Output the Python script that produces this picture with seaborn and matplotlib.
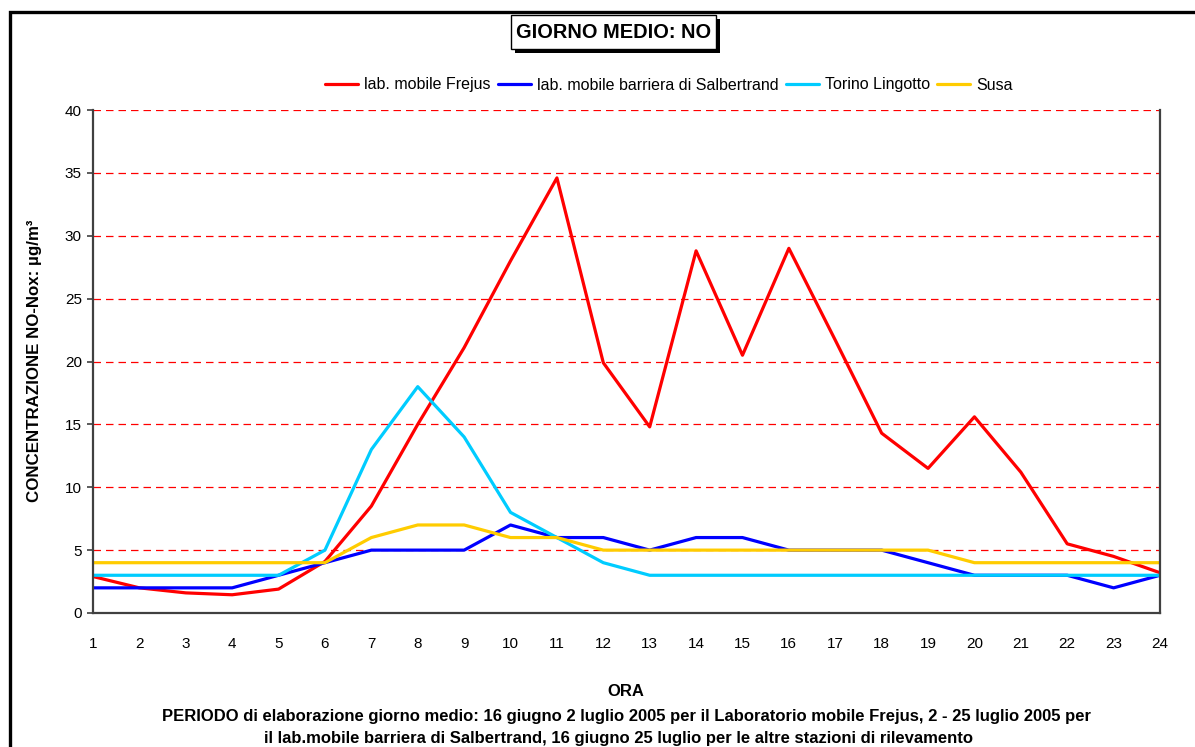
import matplotlib
matplotlib.use("Agg")
import matplotlib.pyplot as plt
from matplotlib.patches import Rectangle
from matplotlib.lines import Line2D
import seaborn as sns
import pandas as pd

# ---- data ----
hours = list(range(1, 25))
frejus = [2.9, 2.0, 1.6, 1.45, 1.9, 4.1, 8.5, 15.0, 21.1, 28.0, 34.6, 19.9,
          14.8, 28.8, 20.5, 29.0, 21.7, 14.3, 11.5, 15.6, 11.2, 5.5, 4.5, 3.2]
salbertrand = [2, 2, 2, 2, 3, 4, 5, 5, 5, 7, 6, 6, 5, 6, 6, 5, 5, 5, 4, 3, 3, 3, 2, 3]
torino = [3, 3, 3, 3, 3, 5, 13, 18, 14, 8, 6, 4, 3, 3, 3, 3, 3, 3, 3, 3, 3, 3, 3, 3]
susa = [4, 4, 4, 4, 4, 4, 6, 7, 7, 6, 6, 5, 5, 5, 5, 5, 5, 5, 5, 4, 4, 4, 4, 4]
series_names = ["lab. mobile Frejus", "lab. mobile barriera di Salbertrand",
                "Torino Lingotto", "Susa"]
colors = ["#FF0000", "#0000FF", "#00CCFF", "#FFCC00"]
y_ticks = [0, 5, 10, 15, 20, 25, 30, 35, 40]

title = "GIORNO MEDIO: NO"
ylabel = "CONCENTRAZIONE NO-Nox: µg/m³"
xlabel = "ORA"
note1 = "PERIODO di elaborazione giorno medio: 16 giugno 2 luglio 2005 per il Laboratorio mobile Frejus, 2 - 25 luglio 2005 per"
note2 = "il lab.mobile barriera di Salbertrand, 16 giugno 25 luglio per le altre stazioni di rilevamento"

rows = []
for name, vals in zip(series_names, [frejus, salbertrand, torino, susa]):
    for h, v in zip(hours, vals):
        rows.append({"ora": h, "valore": v, "serie": name})
df = pd.DataFrame(rows)

sns.set_theme(style="white")
plt.rcParams["font.family"] = ["Liberation Sans", "DejaVu Sans"]
plt.rcParams["text.color"] = "black"
plt.rcParams["axes.labelcolor"] = "black"
plt.rcParams["xtick.color"] = "black"
plt.rcParams["ytick.color"] = "black"

W, H = 1195, 747
fig = plt.figure(figsize=(W / 100, H / 100), dpi=100)
fig.patch.set_facecolor("white")

# outer frame
fig.patches.append(Rectangle((10 / W, 1 - 760 / H), 1200 / W, 748 / H,
                             transform=fig.transFigure, fill=False,
                             edgecolor="black", linewidth=2.4))

ax = fig.add_axes([93 / W, 1 - 613 / H, (1160 - 93) / W, (613 - 110) / H])
sns.lineplot(data=df, x="ora", y="valore", hue="serie", hue_order=series_names,
             palette=colors, linewidth=2.3, ax=ax, legend=False, sort=False,
             errorbar=None)

ax.set_xlim(1, 24)
ax.set_ylim(0, 40)
ax.set_xticks(hours)
ax.set_xticklabels([str(h) for h in hours])
ax.set_yticks(y_ticks)
ax.tick_params(axis="x", length=0, pad=17, labelsize=11, labelcolor="black")
ax.tick_params(axis="y", length=4, width=1.2, pad=4, labelsize=11,
               color="#404040", labelcolor="black", left=True)
for t in y_ticks[1:]:
    ax.axhline(t, color="#FF0000", linestyle=(0, (6, 4)), linewidth=0.9, zorder=0.5)
for s in ["left", "bottom", "right"]:
    ax.spines[s].set_color("#404040")
    ax.spines[s].set_linewidth(1.6)
ax.spines["top"].set_visible(False)
ax.set_xlabel("")
ax.set_ylabel("")

# y label
fig.text(35 / W, 1 - 361 / H, ylabel, rotation=90, ha="center", va="center",
         fontsize=12.2, fontweight="bold", color="black")

# title box with shadow
bx0, bx1, by0, by1 = 511, 716, 15, 49
fig.patches.append(Rectangle(((bx0 + 4) / W, 1 - (by1 + 4) / H), (bx1 - bx0) / W,
                             (by1 - by0) / H, transform=fig.transFigure,
                             facecolor="black", edgecolor="black", linewidth=0))
fig.patches.append(Rectangle((bx0 / W, 1 - by1 / H), (bx1 - bx0) / W,
                             (by1 - by0) / H, transform=fig.transFigure,
                             facecolor="white", edgecolor="black", linewidth=1))
fig.text((bx0 + bx1) / 2 / W, 1 - (by0 + by1) / 2 / H, title, ha="center",
         va="center", fontsize=14.4, fontweight="bold", color="black")

# legend
handles = [Line2D([0], [0], color=c, linewidth=2.3) for c in colors]
leg = fig.legend(handles, series_names, loc="center",
                 bbox_to_anchor=(669 / W, 1 - 85 / H),
                 ncol=4, frameon=False, fontsize=11.5, handlelength=2.05,
                 handletextpad=0.4, columnspacing=0.45)
for t in leg.get_texts():
    t.set_color("black")

# bottom texts
fig.text(626 / W, 1 - 691 / H, xlabel, ha="center", va="center", fontsize=12,
         fontweight="bold", color="black")
fig.text(626 / W, 1 - 716 / H, note1, ha="center", va="center", fontsize=12,
         fontweight="bold", color="black")
fig.text(618 / W, 1 - 738 / H, note2, ha="center", va="center", fontsize=12,
         fontweight="bold", color="black")

fig.savefig("out.png", dpi=100, facecolor="white")
